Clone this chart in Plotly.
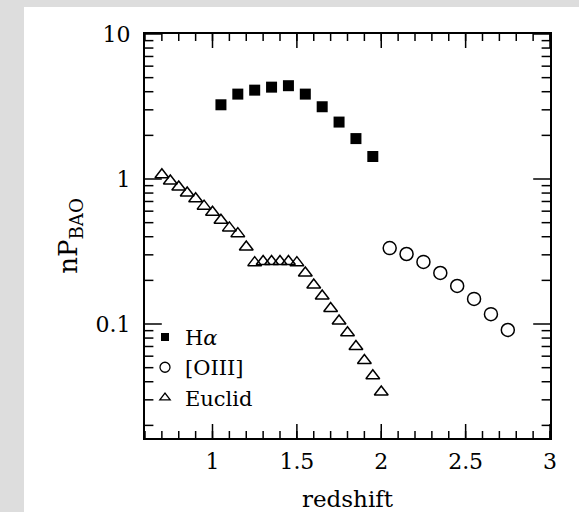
import plotly.graph_objects as go

# ---- data ----
ha_z = [1.05, 1.15, 1.25, 1.35, 1.45, 1.55, 1.65, 1.75, 1.85, 1.95]
ha_np = [3.25, 3.85, 4.1, 4.3, 4.4, 3.85, 3.15, 2.47, 1.9, 1.43]

oiii_z = [2.05, 2.15, 2.25, 2.35, 2.45, 2.55, 2.65, 2.75]
oiii_np = [0.334, 0.304, 0.268, 0.225, 0.183, 0.149, 0.117, 0.091]

euclid_z = [0.70, 0.75, 0.80, 0.85, 0.90, 0.95, 1.00, 1.05, 1.10, 1.15, 1.20,
            1.25, 1.30, 1.35, 1.40, 1.45, 1.50, 1.55, 1.60, 1.65, 1.70, 1.75,
            1.80, 1.85, 1.90, 1.95, 2.00]
euclid_np = [1.07, 0.97, 0.88, 0.80, 0.73, 0.65, 0.59, 0.52, 0.46, 0.42, 0.34,
             0.265, 0.27, 0.27, 0.27, 0.27, 0.265, 0.225, 0.186, 0.156, 0.128, 0.105,
             0.087, 0.070, 0.056, 0.044, 0.034]

x_ticks = [1, 1.5, 2, 2.5, 3]
x_ticklabels = ["1", "1.5", "2", "2.5", "3"]
y_ticks = [0.1, 1, 10]
y_ticklabels = ["0.1", "1", "10"]

FONT = "DejaVu Serif"
X_RANGE = [0.6, 3]
Y_RANGE = [-1.786, 1]   # log10 units

# minor tick positions (styling only)
x_minor = [round(0.6 + 0.1 * i, 2) for i in range(25)]
y_minor = [k * 10.0 ** e for e in (-2, -1, 0) for k in range(2, 10)]
y_minor = [v for v in y_minor if 10 ** Y_RANGE[0] < v < 10 ** Y_RANGE[1]]

fig = go.Figure()

fig.add_trace(go.Scatter(x=ha_z, y=ha_np, mode="markers", showlegend=False,
                         marker=dict(symbol="square", size=11, color="black",
                                     line=dict(width=0))))
fig.add_trace(go.Scatter(x=oiii_z, y=oiii_np, mode="markers", showlegend=False,
                         marker=dict(symbol="circle-open", size=13, color="black",
                                     line=dict(width=1.5))))
fig.add_trace(go.Scatter(x=euclid_z, y=euclid_np, mode="markers", showlegend=False,
                         marker=dict(symbol="triangle-up-open", size=12, color="black",
                                     line=dict(width=1.5))))

# legend entries (smaller symbols as in the reference)
fig.add_trace(go.Scatter(x=[None], y=[None], mode="markers", name="H<i>α</i>",
                         marker=dict(symbol="square", size=8, color="black")))
fig.add_trace(go.Scatter(x=[None], y=[None], mode="markers", name="[OIII]",
                         marker=dict(symbol="circle-open", size=10, color="black",
                                     line=dict(width=1.3))))
fig.add_trace(go.Scatter(x=[None], y=[None], mode="markers", name="Euclid",
                         marker=dict(symbol="triangle-up-open", size=9, color="black",
                                     line=dict(width=1.3))))


# inward tick marks on all four frame sides, placed through the axes' own scales
# (line markers centred on the frame and clipped to the plot area)
def tick_marks(xs, ys, symbol, size):
    fig.add_trace(go.Scatter(x=xs, y=ys, mode="markers", showlegend=False,
                             hoverinfo="skip", cliponaxis=True,
                             marker=dict(symbol=symbol, size=size, color="black",
                                         line=dict(width=1.5, color="black"))))


y_lo, y_hi = 10 ** Y_RANGE[0], 10 ** Y_RANGE[1]
for edge in (y_lo, y_hi):
    tick_marks(x_ticks, [edge] * len(x_ticks), "line-ns", 20)
    tick_marks(x_minor, [edge] * len(x_minor), "line-ns", 10)
for edge in X_RANGE:
    tick_marks([edge] * len(y_ticks), y_ticks, "line-ew", 24)
    tick_marks([edge] * len(y_minor), y_minor, "line-ew", 12)

L, R, T, B = 145, 29, 34, 74
W, H = 579, 512
pw, ph = W - L - R, H - T - B

GRAY = "#dddddd"
fig.add_shape(type="rect", xref="paper", yref="paper", layer="below",
              x0=-L / pw - 0.01, x1=(24 - L) / pw, y0=-B / ph - 0.01, y1=1 + T / ph + 0.01,
              fillcolor=GRAY, line=dict(width=0))
fig.add_shape(type="rect", xref="paper", yref="paper", layer="below",
              x0=-L / pw - 0.01, x1=1 + R / pw + 0.01, y0=1 + (T - 7) / ph, y1=1 + T / ph + 0.01,
              fillcolor=GRAY, line=dict(width=0))

fig.update_layout(
    width=W, height=H,
    margin=dict(l=L, r=R, t=T, b=B),
    paper_bgcolor="white", plot_bgcolor="white",
    font=dict(family=FONT, color="black"),
    xaxis=dict(range=X_RANGE, tickmode="array", tickvals=x_ticks, ticktext=x_ticklabels,
               ticks="", ticklabelstandoff=3,
               showline=True, linecolor="black", linewidth=2, mirror=True,
               showgrid=False, zeroline=False, automargin=False,
               tickfont=dict(family=FONT, size=22, color="black"),
               title=dict(text="redshift", font=dict(family=FONT, size=23, color="black"),
                          standoff=19)),
    yaxis=dict(type="log", range=Y_RANGE, tickmode="array", tickvals=y_ticks,
               ticktext=y_ticklabels, ticks="", ticklabelstandoff=8,
               showline=True, linecolor="black", linewidth=2, mirror=True,
               showgrid=False, zeroline=False, automargin=False,
               tickfont=dict(family=FONT, size=22, color="black"),
               title=dict(text="nP<sub>BAO</sub>", font=dict(family=FONT, size=26, color="black"),
                          standoff=10)),
    legend=dict(x=0.0, y=0.300, xanchor="left", yanchor="top",
                bgcolor="rgba(0,0,0,0)", font=dict(family=FONT, size=21, color="black"),
                itemwidth=30, tracegroupgap=0),
)

fig.write_html("out.html")
